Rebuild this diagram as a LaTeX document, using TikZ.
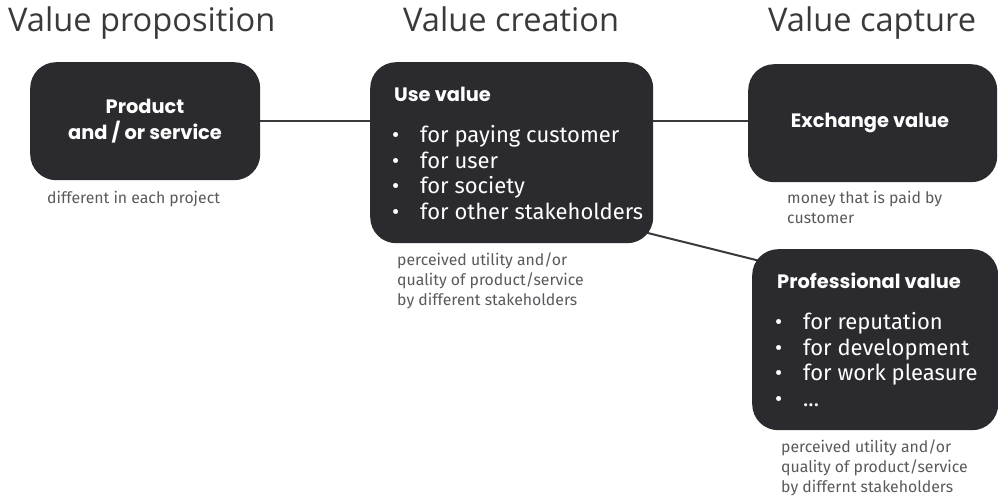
\documentclass[tikz,border=0pt]{standalone}
\usepackage{fontspec}
\setmainfont{Fira Sans}
\newfontfamily\titlefont{Open Sans}
\newfontfamily\boxfont{Poppins}
\usetikzlibrary{backgrounds}
\definecolor{boxfill}{HTML}{2B2B2F}
\definecolor{titlegray}{HTML}{3A3A3C}
\definecolor{captiongray}{HTML}{5A5A5E}
\definecolor{linegray}{HTML}{3A3A3C}
\begin{document}
\begin{tikzpicture}[x=1pt,y=-1pt,
  valuebox/.style={fill=boxfill, draw=none, rounded corners=26pt, inner sep=0pt},
  heading/.style={text=titlegray, font=\titlefont\fontsize{32.6}{38}\selectfont, anchor=base west, inner sep=0pt},
  boxtitle/.style={text=white, font=\boxfont\bfseries\fontsize{19.4}{26}\selectfont, inner sep=0pt},
  bullets/.style={text=white, font=\fontsize{22}{25.7}\selectfont, align=left, anchor=north west, inner sep=0pt},
  caption/.style={text=captiongray, font=\fontsize{15.8}{19.8}\selectfont, align=left, anchor=north west, inner sep=0pt},
  link/.style={draw=linegray, line width=2pt}]
\useasboundingbox (0,0) rectangle (998,497);

% column headings
\node[heading] (hprop) at (8,32) {Value proposition};
\node[heading] (hcrea) at (403,32) {Value creation};
\node[heading] (hcapt) at (768,32) {Value capture};

% value boxes
\node[valuebox, anchor=north west, minimum width=230pt, minimum height=118pt] (prod) at (30,62) {};
\node[valuebox, anchor=north west, minimum width=283pt, minimum height=181pt] (use) at (370,62) {};
\node[valuebox, anchor=north west, minimum width=249pt, minimum height=118pt] (exch) at (748,64) {};
\node[valuebox, anchor=north west, minimum width=246pt, minimum height=181pt] (prof) at (752,249) {};

% white page and connectors, kept behind the boxes
\begin{pgfonlayer}{background}
  \fill[white] (0,0) rectangle (998,497);
  \draw[link] (prod.east) -- (use.west |- prod.east);
  \draw[link] (use.east |- prod.east) -- (exch.west |- prod.east);
  \draw[link] ([xshift=-20pt,yshift=14pt]use.south east) -- ([xshift=28pt,yshift=-17pt]prof.north west);
\end{pgfonlayer}

% box contents
\node[boxtitle, align=center] (prodtxt) at (145,121) {Product\\and / or service};
\node[boxtitle, anchor=base west] (usetxt) at (394,102) {Use value};
\node[bullets] (uselist) at (392,125) {%
  \makebox[28pt][l]{•}for paying customer\\
  \makebox[28pt][l]{•}for user\\
  \makebox[28pt][l]{•}for society\\
  \makebox[28pt][l]{•}for other stakeholders};
\node[boxtitle] (exchtxt) at (870,123) {Exchange value};
\node[boxtitle, anchor=base west] (proftxt) at (777,288) {Professional value};
\node[bullets] (proflist) at (775,312) {%
  \makebox[28pt][l]{•}for reputation\\
  \makebox[28pt][l]{•}for development\\
  \makebox[28pt][l]{•}for work pleasure\\
  \makebox[28pt][l]{•}...};

% captions
\node[caption] (prodcap) at (47,191) {different in each project};
\node[caption] (usecap) at (397,253) {perceived utility and/or\\quality of product/service\\by different stakeholders};
\node[caption] (exchcap) at (787,191) {money that is paid by\\customer};
\node[caption] (profcap) at (781,440) {perceived utility and/or\\quality of product/service\\by differnt stakeholders};
\end{tikzpicture}
\end{document}
